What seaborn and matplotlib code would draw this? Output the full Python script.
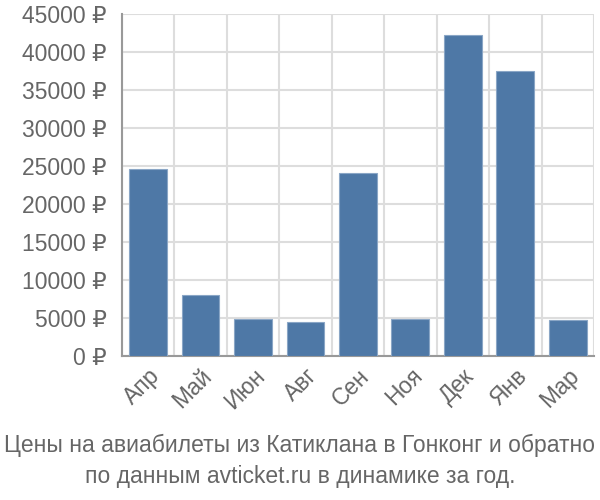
import numpy as np
import matplotlib
matplotlib.use("Agg")
import matplotlib.pyplot as plt
import seaborn as sns

# Data
months = ['Апр', 'Май', 'Июн', 'Авг', 'Сен', 'Ноя', 'Дек', 'Янв', 'Мар']
prices = [24600, 8000, 4850, 4500, 24100, 4850, 42200, 37500, 4700]
yticks = [0, 5000, 10000, 15000, 20000, 25000, 30000, 35000, 40000, 45000]
title = 'Цены на авиабилеты из Катиклана в Гонконг и обратно\nпо данным avticket.ru в динамике за год.'

sns.set_style('white')
plt.rcParams['font.family'] = ['Liberation Sans', 'DejaVu Sans']

fig = plt.figure(figsize=(6, 5), dpi=100)
ax = fig.add_axes([0.203, 0.288, 0.787, 0.684])

sns.barplot(x=months, y=prices, color='#4e78a6', width=0.72,
            edgecolor='#8aa6c6', linewidth=0.8, saturation=1, ax=ax, zorder=3)

ax.set_xlim(-0.5, len(months) - 0.5)
ax.set_ylim(0, 45000)
ax.set_yticks(yticks)
ax.set_yticklabels([f'{v} ₽' for v in yticks])

# vertical grid lines sit between categories
ax.set_xticks(np.arange(-0.5, len(months)), minor=True)
ax.grid(which='minor', axis='x', color='#dddddd', linewidth=1.5, zorder=0)
ax.grid(which='major', axis='y', color='#dddddd', linewidth=1.5, zorder=0)
ax.tick_params(axis='x', which='minor', length=10, color='#dddddd', width=1.5)
ax.tick_params(axis='x', which='major', length=0, labelsize=16.5,
               labelcolor='#666666', pad=6)
ax.tick_params(axis='y', length=9, color='#dddddd', width=1.5,
               labelsize=16.5, labelcolor='#666666', pad=2)
plt.setp(ax.get_xticklabels(), rotation=45, ha='right', rotation_mode='anchor')

for s in ['top', 'right']:
    ax.spines[s].set_visible(False)
ax.spines['left'].set_color('#999999')
ax.spines['bottom'].set_color('#999999')
ax.spines['left'].set_linewidth(1.5)
ax.spines['bottom'].set_linewidth(1.5)
ax.set_xlabel('')
ax.set_ylabel('')

fig.text(0.5, 0.078, title, ha='center', va='center', fontsize=16.5,
         color='#666666', linespacing=1.4)

fig.savefig('out.png', dpi=100)
